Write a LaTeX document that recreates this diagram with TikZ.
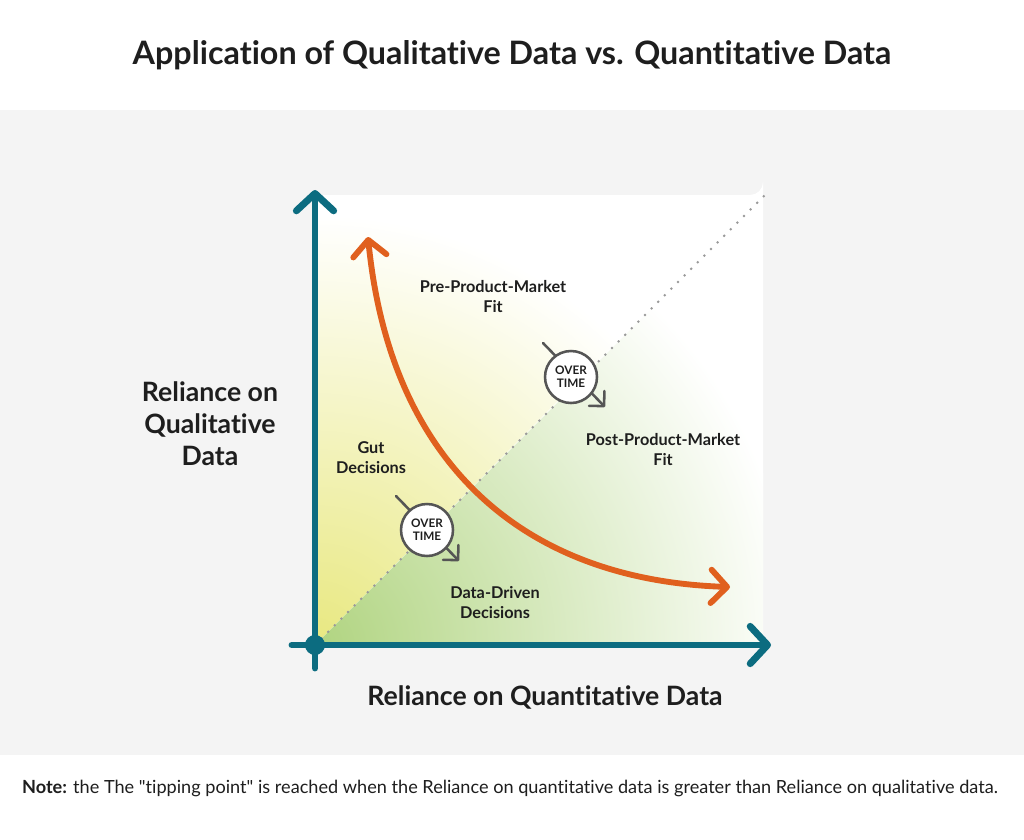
\documentclass[tikz,border=0pt]{standalone}
\usepackage{fontspec}
\setmainfont{Lato}[Ligatures={TeX,NoCommon}]
\newfontfamily\notefont{Lato}[Ligatures={TeXOff,NoCommon}]
\usetikzlibrary{arrows.meta}
\definecolor{axisteal}{RGB}{12,108,128}
\definecolor{curveorange}{RGB}{224,96,30}
\definecolor{bandgray}{RGB}{244,244,244}
\definecolor{gutyellow}{RGB}{232,232,128}
\definecolor{datagreen}{RGB}{176,212,128}
\definecolor{inkdark}{RGB}{30,30,30}
\definecolor{timegray}{RGB}{85,85,85}
\tikzset{axisline/.style={
    line width=5.2pt,
    draw=axisteal,
    line cap=round,
    -{Straight Barb[length=13pt,width=28pt,round]}
  },
  trendcurve/.style={
    line width=4.4pt,
    draw=curveorange,
    {Straight Barb[length=12pt,width=25pt,round]}-{Straight Barb[length=12pt,width=25pt,round]}
  },
  tipline/.style={draw=black!40,line width=2.1pt,line cap=round,dash pattern=on 0pt off 7pt},
  timearrow/.style={draw=timegray,line width=1.9pt,line cap=round,
    -{Straight Barb[length=8pt,width=16pt,round]}},
  timebadge/.style={circle,draw=timegray,line width=1.9pt,fill=white,
    minimum size=39pt,inner sep=0pt,align=center,text=inkdark,
    font=\bfseries\fontsize{8.8}{10}\selectfont},
  zonelabel/.style={align=center,text=inkdark,font=\bfseries\fontsize{12.2}{15}\selectfont},
  axislabel/.style={align=center,text=inkdark,font=\bfseries\fontsize{20}{24}\selectfont},
}
\begin{document}
\begin{tikzpicture}[x=0.75pt,y=-0.75pt]
  % page bands
  \fill[white] (0,0) rectangle (1024,839);
  \fill[bandgray] (0,110) rectangle (1024,755);
  \useasboundingbox (0,0) rectangle (1024,839);
  \coordinate (origin) at (315,645);
  \coordinate (ytip) at (315,190);
  \coordinate (ybase) at (315,668);
  \coordinate (xtip) at (771,645);
  \coordinate (xbase) at (292,645);
  \coordinate (tiptop) at (770,190);
  % plot field
  \fill[white] (315,645) -- (315,195) -- (750,195) arc[start angle=90,end angle=0,radius=13] -- (763,645) -- cycle;
  \begin{scope}
    \clip (315,645) -- (315,195) -- (763,195) -- cycle;
    \shade[inner color=gutyellow,outer color=white] (origin) circle (430);
  \end{scope}
  \begin{scope}
    \clip (315,645) -- (763,197) -- (763,645) -- cycle;
    \shade[inner color=datagreen,outer color=white] (origin) circle (480);
  \end{scope}
  \draw[tipline] (origin) -- (tiptop);
  % axes
  \draw[axisline] (ybase) -- (ytip);
  \draw[axisline] (xbase) -- (xtip);
  \fill[axisteal] (origin) circle (10);
  % curve
  \coordinate (curvetop) at (368,237);
  \coordinate (curveend) at (730,587);
  \draw[trendcurve] (curvetop) .. controls (390,460) and (520,580) .. (curveend);
  % over time
  \coordinate (gutstart) at (396,496);
  \coordinate (gutend) at (459,561);
  \draw[timearrow] (gutstart) -- (gutend);
  \node[timebadge] (gutbadge) at (427,530) {OVER\\TIME};
  \coordinate (fitstart) at (543,343);
  \coordinate (fitend) at (605,407);
  \draw[timearrow] (fitstart) -- (fitend);
  \node[timebadge] (fitbadge) at (571,377) {OVER\\TIME};
  % labels
  \node[zonelabel] (prefit) at (493,297) {Pre-Product-Market\\Fit};
  \node[zonelabel] (postfit) at (663,450) {Post-Product-Market\\Fit};
  \node[zonelabel] (gut) at (371,458) {Gut\\Decisions};
  \node[zonelabel] (datadriven) at (495,603) {Data-Driven\\Decisions};
  \node[axislabel] (ylabel) at (210,424) {Reliance on\\Qualitative\\Data};
  \node[axislabel] (xlabel) at (545,697) {Reliance on Quantitative Data};
  \node[text=inkdark,font=\bfseries\fontsize{24.2}{28}\selectfont] (title) at (512,55) {Application of Qualitative Data vs. Quantitative Data};
  \node[text=inkdark,font=\notefont\fontsize{13.6}{16}\selectfont] (note) at (510,788) {\textbf{Note:} the The "tipping point" is reached when the Reliance on quantitative data is greater than Reliance on qualitative data.};
\end{tikzpicture}
\end{document}
